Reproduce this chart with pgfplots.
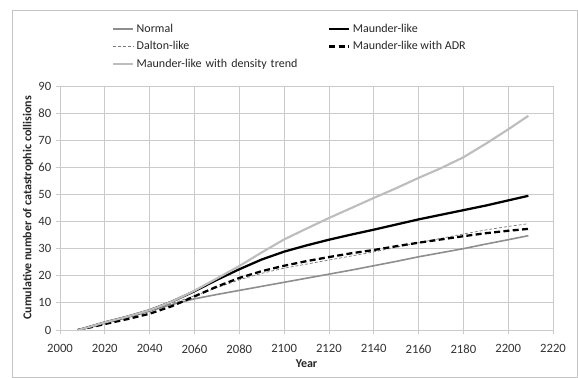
\documentclass[border=0pt]{standalone}
\usepackage{fontspec}
\setmainfont{Carlito}
\usepackage{pgfplots}
\usepackage{pgfplotstable}
\pgfplotsset{compat=1.18}
\definecolor{gridc}{HTML}{CBCBCB}
\definecolor{normalc}{HTML}{8E8E8E}
\definecolor{daltonc}{HTML}{7A7A7A}
\definecolor{densc}{HTML}{BDBDBD}
\definecolor{framec}{HTML}{C4C4C4}

\pgfplotstableread{
year normal dalton maunder adr dens
2008 0    0    0    0    0
2010 0.4  0.4  0.4  0.3  0.4
2020 2.5  2.5  2.8  2.2  2.8
2030 4.6  4.7  4.9  4.0  4.9
2040 7.0  7.0  7.3  6.0  7.3
2050 9.4  9.8  10.5 8.8  10.5
2060 11.5 12.6 14.3 12.4 14.5
2070 13.1 15.6 18.5 16.0 19.0
2080 14.6 18.5 22.4 19.2 23.6
2090 16.1 20.9 26.0 21.7 28.6
2100 17.6 22.8 28.9 23.7 33.4
2110 19.1 24.3 31.2 25.4 37.4
2120 20.6 25.8 33.3 26.9 41.3
2130 22.1 27.3 35.2 28.3 45.0
2140 23.7 28.8 37.0 29.5 48.7
2150 25.3 30.5 38.9 30.9 52.3
2160 27.0 32.2 40.8 32.2 56.1
2170 28.5 33.8 42.5 33.4 59.7
2180 30.0 35.4 44.2 34.6 63.7
2190 31.7 36.9 45.9 35.7 68.7
2200 33.3 38.2 47.8 36.6 74.0
2209 34.8 39.2 49.5 37.3 79.0
}\datatable

\begin{document}
\begin{tikzpicture}
\begin{axis}[
  at={(0,0)}, anchor=south west,
  scale only axis, width=369.75pt, height=183pt,
  xmin=2000, xmax=2220, ymin=0, ymax=90,
  xtick={2000,2020,...,2220}, ytick={0,10,...,90},
  axis x line*=bottom, axis y line*=left,
  axis line style={gridc, line width=0.6pt},
  grid=major, major grid style={gridc, line width=0.6pt},
  tick align=outside, major tick length=3pt,
  tick style={gridc, line width=0.6pt},
  /pgf/number format/assume math mode=true,
  /pgf/number format/1000 sep={},
  tick label style={font=\fontsize{9.5}{11}\selectfont, text=black!80},
  xticklabel style={yshift=-4.5pt},
  xlabel={Year}, ylabel={Cumulative number of catastrophic collisions},
  label style={font=\fontsize{9}{11}\selectfont\bfseries, text=black!85},
  xlabel style={at={(axis description cs:0.5,0)}, anchor=center, yshift=-25.5pt},
  ylabel style={at={(axis description cs:0,0.5)}, anchor=center, yshift=24pt},
  legend columns=2,
  legend style={draw=none, fill=none, inner sep=0pt, row sep=4.2pt,
    at={(axis description cs:0.1055,1.258)}, anchor=north west,
    font=\fontsize{9}{11}\selectfont,
    nodes={inner xsep=1.7pt, inner ysep=0pt, text height=6.8pt, text depth=2pt, anchor=west, text=black!85},
    /tikz/column 2/.style={text width=142pt}},
  legend image code/.code={\draw[#1] (0pt,0pt) -- (15pt,0pt);},
]
\addplot[normalc, line width=1.2pt] table[x=year, y=normal] {\datatable};
\addlegendentry{Normal}
\addplot[black, line width=1.7pt] table[x=year, y=maunder] {\datatable};
\addlegendentry{Maunder-like}
\addplot[daltonc, line width=0.55pt, dash pattern=on 2.2pt off 1.5pt] table[x=year, y=dalton] {\datatable};
\addlegendentry{Dalton-like}
\addplot[black, line width=1.7pt, dash pattern=on 4.5pt off 2.5pt] table[x=year, y=adr] {\datatable};
\addlegendentry{Maunder-like with ADR}
\addplot[densc, line width=1.6pt] table[x=year, y=dens] {\datatable};
\addlegendentry{Maunder-like with density trend}
\end{axis}
\draw[framec, line width=0.6pt] (-36pt,-35.25pt) rectangle (387.75pt,240pt);
\pgfresetboundingbox
\useasboundingbox (-45pt,-36pt) rectangle (388.5pt,247.5pt);
\end{tikzpicture}
\end{document}
